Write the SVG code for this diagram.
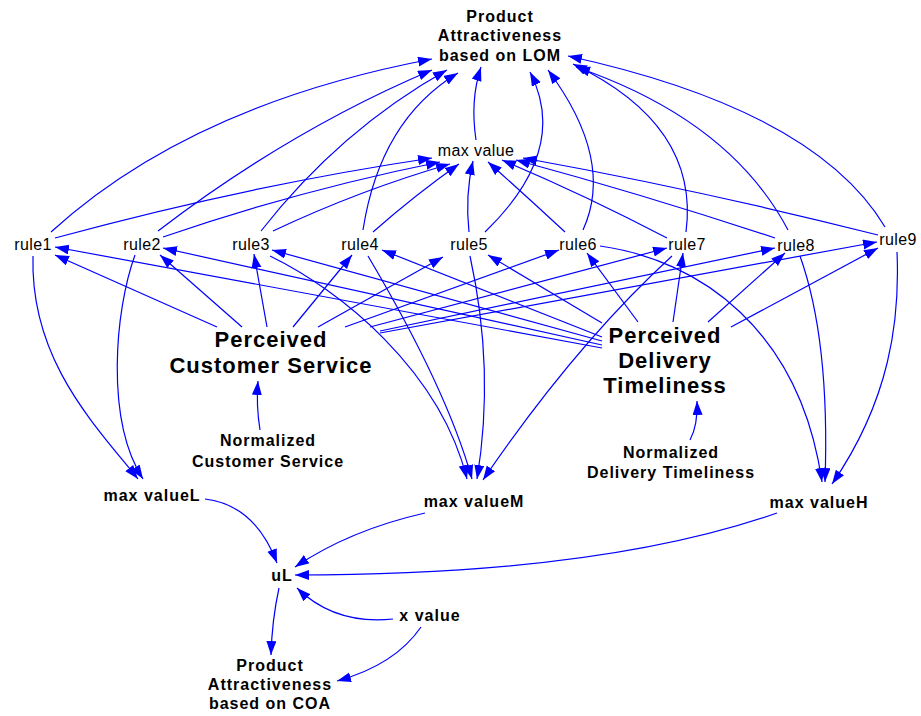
<svg xmlns="http://www.w3.org/2000/svg" width="921" height="716" viewBox="0 0 921 716">
<style>
text{font-family:"Liberation Sans",Arial,sans-serif;fill:#000;text-anchor:middle}
.r{font-size:16px;letter-spacing:0.4px}
.b{font-size:16px;font-weight:bold;letter-spacing:1px}
.big{font-size:22px;font-weight:bold;letter-spacing:1px}
#links path{fill:none;stroke:#0000ff;stroke-width:1.2;marker-end:url(#ah)}
</style>
<defs>
<marker id="ah" markerUnits="userSpaceOnUse" markerWidth="15" markerHeight="11" refX="14" refY="5" orient="auto">
<path d="M0,0 L14,5 L0,10 z" fill="#0000ff"/>
</marker>
</defs>
<rect width="921" height="716" fill="#fff"/>
<g id="links">
<path d="M51,232 Q190,105 432,59"/>
<path d="M158,231 Q290,130 432,70"/>
<path d="M261,231 Q340,130 447,70"/>
<path d="M363,230 Q380,120 458,73"/>
<path d="M476,140 Q470,100 481,67"/>
<path d="M485,232 Q570,150 530,72"/>
<path d="M583,230 Q615,160 548,70"/>
<path d="M686,232 Q700,125 573,64"/>
<path d="M788,230 Q730,120 576,67"/>
<path d="M885,227 Q815,110 568,56"/>
<path d="M55,238 Q250,185 432,158"/>
<path d="M163,237 Q300,190 440,162"/>
<path d="M273,231 Q360,190 450,164"/>
<path d="M373,232 Q415,195 459,164"/>
<path d="M469,232 Q465,195 473,161"/>
<path d="M565,232 Q525,195 488,162"/>
<path d="M667,238 Q585,195 502,160"/>
<path d="M775,238 Q645,195 516,160"/>
<path d="M878,235 Q700,190 523,158"/>
<path d="M217,327 L55,255"/>
<path d="M242,327 L160,255"/>
<path d="M267,327 L254,254"/>
<path d="M293,327 L352,255"/>
<path d="M318,327 L443,257"/>
<path d="M345,327 L559,250"/>
<path d="M370,327 L667,248"/>
<path d="M380,331 L775,248"/>
<path d="M380,333 L877,242"/>
<path d="M602,348 L55,247"/>
<path d="M602,345 L163,248"/>
<path d="M602,341 L272,250"/>
<path d="M602,337 L382,250"/>
<path d="M602,323 L488,255"/>
<path d="M638,322 L587,253"/>
<path d="M673,322 L683,253"/>
<path d="M708,322 L785,253"/>
<path d="M731,327 L878,248"/>
<path d="M33,256 C30,360 95,425 138,479"/>
<path d="M135,255 C115,310 105,420 143,479"/>
<path d="M270,256 C340,290 440,370 467,479"/>
<path d="M368,256 C400,310 450,400 472,479"/>
<path d="M470,256 Q495,370 477,479"/>
<path d="M672,256 Q575,345 483,480"/>
<path d="M600,246 C700,260 800,330 822,482"/>
<path d="M800,256 Q830,340 825,482"/>
<path d="M897,252 C900,320 890,400 832,484"/>
<path d="M260,430 Q256,405 258,381"/>
<path d="M690,440 Q698,425 697,401"/>
<path d="M205,499 Q255,505 277,563"/>
<path d="M425,513 Q350,530 295,567"/>
<path d="M777,513 Q600,575 295,575"/>
<path d="M393,619 Q335,625 297,588"/>
<path d="M279,588 Q272,620 271,655"/>
<path d="M421,627 Q395,665 337,681"/>
</g>
<g id="lom"><text class="b" x="500" y="22">Product</text><text class="b" x="500" y="41">Attractiveness</text><text class="b" x="500" y="61">based on LOM</text></g>
<g id="maxvalue"><text class="r" x="476" y="156">max value</text></g>
<g id="rule1"><text class="r" x="33" y="250">rule1</text></g>
<g id="rule2"><text class="r" x="142" y="250">rule2</text></g>
<g id="rule3"><text class="r" x="251" y="250">rule3</text></g>
<g id="rule4"><text class="r" x="360" y="250">rule4</text></g>
<g id="rule5"><text class="r" x="469" y="250">rule5</text></g>
<g id="rule6"><text class="r" x="578" y="250">rule6</text></g>
<g id="rule7"><text class="r" x="687" y="250">rule7</text></g>
<g id="rule8"><text class="r" x="796" y="251">rule8</text></g>
<g id="rule9"><text class="r" x="898" y="245">rule9</text></g>
<g id="pcs"><text class="big" x="271" y="347">Perceived</text><text class="big" x="271" y="373">Customer Service</text></g>
<g id="pdt"><text class="big" x="665" y="343">Perceived</text><text class="big" x="665" y="368">Delivery</text><text class="big" x="665" y="393">Timeliness</text></g>
<g id="ncs"><text class="b" x="268" y="446">Normalized</text><text class="b" x="268" y="467">Customer Service</text></g>
<g id="ndt"><text class="b" x="671" y="458">Normalized</text><text class="b" x="671" y="478">Delivery Timeliness</text></g>
<g id="maxvalueL"><text class="b" x="152" y="501">max valueL</text></g>
<g id="maxvalueM"><text class="b" x="474" y="507">max valueM</text></g>
<g id="maxvalueH"><text class="b" x="819" y="508">max valueH</text></g>
<g id="uL"><text class="b" x="282" y="581">uL</text></g>
<g id="xvalue"><text class="b" x="430" y="621">x value</text></g>
<g id="coa"><text class="b" x="270" y="671">Product</text><text class="b" x="270" y="690">Attractiveness</text><text class="b" x="270" y="709">based on COA</text></g>
</svg>
